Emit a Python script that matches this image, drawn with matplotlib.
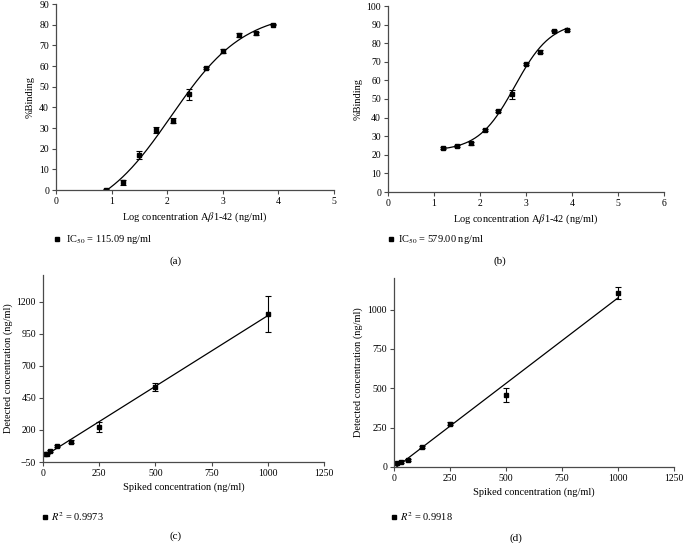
import numpy as np
import matplotlib
matplotlib.use("Agg")
import matplotlib.pyplot as plt
from matplotlib.lines import Line2D

# ---- data ----
# (a) competitive curve, IC50 = 115.09 ng/ml
log_conc_a = [0.9, 1.2, 1.5, 1.8, 2.1, 2.4, 2.7, 3.0, 3.3, 3.6, 3.9]
binding_a = [0.2, 3.7, 16.8, 29.0, 33.6, 46.3, 59.0, 67.3, 75.2, 75.8, 80.0]
binding_err_a = [0.4, 1.2, 2.0, 1.5, 1.0, 2.6, 0.6, 1.0, 1.0, 0.6, 0.4]

# (b) competitive curve, IC50 = 579.00 ng/ml
log_conc_b = [1.2, 1.5, 1.8, 2.1, 2.4, 2.7, 3.0, 3.3, 3.6, 3.9]
binding_b = [23.8, 24.9, 26.3, 33.5, 43.5, 52.6, 68.9, 75.3, 86.8, 87.1]
binding_err_b = [0.5, 0.5, 0.8, 0.6, 0.6, 2.4, 0.5, 0.8, 0.5, 0.5]

# (c) recovery, R^2 = 0.9973
spiked_c = [7.8, 15.6, 31.25, 62.5, 125, 250, 500, 1000]
detected_c = [12, 15, 36, 75, 110, 224, 537, 1106]
detected_err_c = [4, 4, 6, 8, 8, 36, 31, 143]

# (d) recovery, R^2 = 0.9918
spiked_d = [15.6, 31.25, 62.5, 125, 250, 500, 1000]
detected_d = [27, 32, 44, 129, 275, 458, 1106]
detected_err_d = [4, 4, 5, 6, 8, 44, 37]

legend_texts = [r"IC$_{50}$ = 115.09 ng/ml", r"IC$_{50}$ = 579.00 ng/ml",
                r"$R^2$ = 0.9973", r"$R^2$ = 0.9918"]
captions = ["(a)", "(b)", "(c)", "(d)"]

W, H = 684, 543
plt.rcParams["font.family"] = ["Liberation Serif", "DejaVu Serif"]
plt.rcParams["mathtext.fontset"] = "stix"
SPINE = "#4a4a4a"


def fx(px):
    return px / W


def fy(py):
    return 1 - py / H


def make_axes(fig, left, top, right, bottom):
    """Axes from reference pixel box."""
    ax = fig.add_axes([fx(left), fy(bottom), fx(right) - fx(left), fy(top) - fy(bottom)])
    for s in ("top", "right"):
        ax.spines[s].set_visible(False)
    for s in ("left", "bottom"):
        ax.spines[s].set_color(SPINE)
        ax.spines[s].set_linewidth(0.9)
    ax.tick_params(length=3, width=0.8, color=SPINE, labelsize=7, pad=2)
    return ax


def four_pl(x, bottom, top, logc, hill):
    return bottom + (top - bottom) / (1 + 10 ** ((logc - x) * hill))


def fit_4pl(x, y):
    """Grid search over logC/hill, least squares for bottom/top."""
    x = np.asarray(x, float)
    y = np.asarray(y, float)
    best = None
    for logc in np.linspace(x.min(), x.max(), 301):
        for hill in np.linspace(0.2, 4.0, 191):
            g = 1 / (1 + 10 ** ((logc - x) * hill))
            A = np.column_stack([1 - g, g])
            coef, *_ = np.linalg.lstsq(A, y, rcond=None)
            res = np.sum((A @ coef - y) ** 2)
            if best is None or res < best[0]:
                best = (res, coef[0], coef[1], logc, hill)
    return best[1:]


def curve_panel(ax, x, y, err, xmax, ymax, xlabel_text):
    params = fit_4pl(x, y)
    xs = np.linspace(min(x), max(x), 200)
    ax.plot(xs, four_pl(xs, *params), color="black", lw=0.9)
    ax.errorbar(x, y, yerr=err, fmt="s", color="black", ms=3, capsize=2,
                elinewidth=0.8, capthick=0.8)
    ax.set_xlim(0, xmax)
    ax.set_ylim(0, ymax)
    ax.set_xticks(range(0, xmax + 1))
    ax.set_yticks(range(0, ymax + 1, 10))
    ax.set_xlabel(xlabel_text, fontsize=7.5, labelpad=3)
    ax.set_ylabel("%Binding", fontsize=7.5, labelpad=3)


def linear_panel(ax, x, y, err, ylim, yticks):
    slope, icpt = np.polyfit(x, y, 1)
    xs = np.array([0, max(x)])
    ax.plot(xs, slope * xs + icpt, color="black", lw=0.9)
    ax.errorbar(x, y, yerr=err, fmt="s", color="black", ms=3, capsize=2,
                elinewidth=0.8, capthick=0.8)
    ax.set_xlim(0, 1250)
    ax.set_ylim(*ylim)
    ax.set_xticks(range(0, 1251, 250))
    ax.set_yticks(yticks)
    ax.set_xlabel("Spiked concentration (ng/ml)", fontsize=7.5, labelpad=3)
    ax.set_ylabel("Detected concentration (ng/ml)", fontsize=7.5, labelpad=3)


fig = plt.figure(figsize=(W / 100, H / 100), dpi=100)

ax_a = make_axes(fig, 56, 4, 334, 190)
curve_panel(ax_a, log_conc_a, binding_a, binding_err_a, 5, 90,
            r"Log concentration A$\beta$1-42 (ng/ml)")

ax_b = make_axes(fig, 388, 6, 664, 192)
curve_panel(ax_b, log_conc_b, binding_b, binding_err_b, 6, 100,
            r"Log concentration A$\beta$1-42 (ng/ml)")

ax_c = make_axes(fig, 43, 275, 324, 462)
linear_panel(ax_c, spiked_c, detected_c, detected_err_c, (-50, 1410),
             [-50, 200, 450, 700, 950, 1200])

ax_d = make_axes(fig, 394, 278, 674, 467)
linear_panel(ax_d, spiked_d, detected_d, detected_err_d, (0, 1200),
             [0, 250, 500, 750, 1000])

# legend lines and captions under each panel
marker_pos = [(57, 239), (391, 239), (45, 517), (394, 517)]
text_pos = [(66, 239), (398, 239), (51, 517), (400, 517)]
caption_pos = [(176, 261), (500, 261), (176, 536), (516, 538)]
for (mx, my), (tx, ty), (cx, cy), txt, cap in zip(marker_pos, text_pos, caption_pos,
                                                  legend_texts, captions):
    fig.add_artist(Line2D([fx(mx)], [fy(my)], marker="s", ms=3.2, color="black",
                          transform=fig.transFigure))
    fig.text(fx(tx), fy(ty), txt, fontsize=7.5, va="center", ha="left")
    fig.text(fx(cx), fy(cy), cap, fontsize=8, va="center", ha="center")

fig.savefig("out.png", dpi=100)
